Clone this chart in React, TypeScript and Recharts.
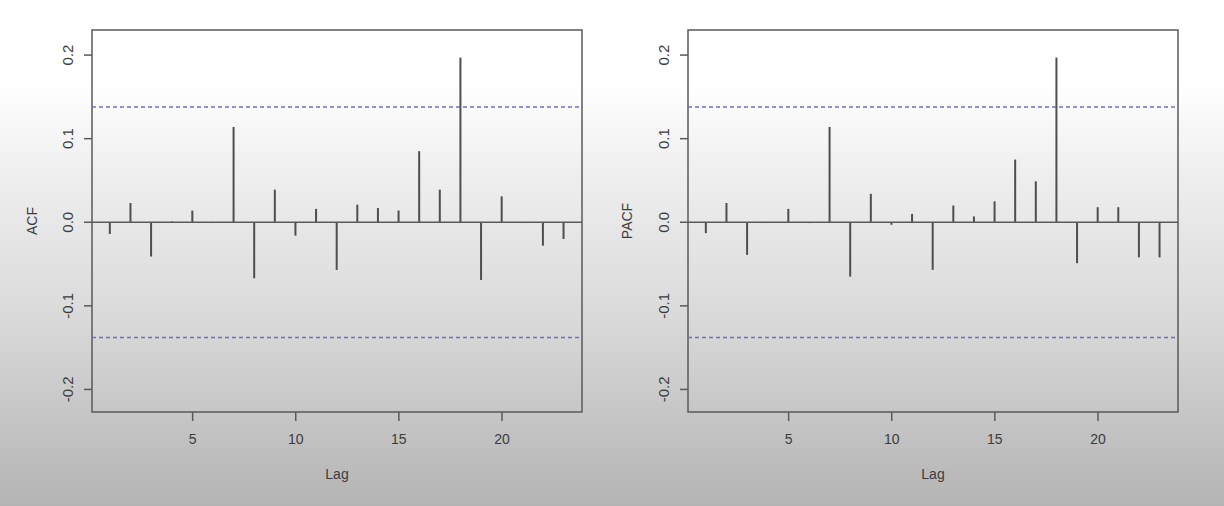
import React from 'react';
import {
  ComposedChart, Bar, XAxis, YAxis, ReferenceLine, ReferenceArea, Label,
} from 'recharts';

// lags 1..23, values
const lags = [1, 2, 3, 4, 5, 6, 7, 8, 9, 10, 11, 12, 13, 14, 15, 16, 17, 18, 19, 20, 21, 22, 23];
const acfValues = [
  -0.014, 0.023, -0.041, 0.001, 0.014, -0.001, 0.114, -0.067, 0.039, -0.016, 0.016, -0.057,
  0.021, 0.017, 0.014, 0.085, 0.039, 0.197, -0.069, 0.031, -0.001, -0.028, -0.020,
];
const pacfValues = [
  -0.013, 0.023, -0.039, -0.001, 0.016, -0.001, 0.114, -0.065, 0.034, -0.003, 0.010, -0.057,
  0.020, 0.007, 0.025, 0.075, 0.049, 0.197, -0.049, 0.018, 0.018, -0.042, -0.042,
];
const xTicks = [5, 10, 15, 20];
const yTicks = [-0.2, -0.1, 0, 0.1, 0.2];
const ciBound = 0.138;

const xDomain: [number, number] = [0.12, 23.88];
const yDomain: [number, number] = [-0.227, 0.23];

const FONT = '"Liberation Sans", Arial, sans-serif';
const TEXT = '#3c3c3c';
const LINE = '#5a5a5a';

const data = lags.map((lag, i) => ({ lag, acf: acfValues[i], pacf: pacfValues[i] }));

function YTick(props: any) {
  const { x, y, payload } = props;
  const tx = x - 16;
  return (
    <text
      x={tx}
      y={y}
      transform={`rotate(-90, ${tx}, ${y})`}
      textAnchor="middle"
      dominantBaseline="central"
      fill={TEXT}
      fontSize={15}
      fontFamily={FONT}
    >
      {payload.value.toFixed(1)}
    </text>
  );
}

interface PanelProps {
  dataKey: 'acf' | 'pacf';
  title: string;
  left: number;
  yAxisWidth: number;
  rightMargin: number;
  titleOffset: number;
}

function Panel({ dataKey, title, left, yAxisWidth, rightMargin, titleOffset }: PanelProps) {
  return (
    <div style={{ position: 'absolute', left, top: 0 }}>
      <ComposedChart
        width={612}
        height={506}
        data={data}
        margin={{ top: 30, right: rightMargin, bottom: 14, left: 0 }}
      >
        <XAxis
          dataKey="lag"
          type="number"
          domain={xDomain}
          ticks={xTicks}
          allowDataOverflow
          height={80}
          axisLine={false}
          tickSize={9}
          tickMargin={13}
          tickLine={{ stroke: LINE, strokeWidth: 1.5 }}
          tick={{ fill: TEXT, fontSize: 14, fontFamily: FONT }}
        >
          <Label
            value="Lag"
            position="insideBottom"
            offset={13}
            style={{ fill: TEXT, fontSize: 14, fontFamily: FONT }}
          />
        </XAxis>
        <YAxis
          type="number"
          domain={yDomain}
          ticks={yTicks}
          allowDataOverflow
          width={yAxisWidth}
          axisLine={false}
          tickSize={8}
          tickMargin={0}
          tickLine={{ stroke: LINE, strokeWidth: 1.5 }}
          tick={<YTick />}
        >
          <Label
            content={(p: any) => {
              const vb = p.viewBox;
              const cx = vb.x + titleOffset;
              const cy = vb.y + vb.height / 2;
              return (
                <text
                  x={cx}
                  y={cy}
                  transform={`rotate(-90, ${cx}, ${cy})`}
                  textAnchor="middle"
                  dominantBaseline="central"
                  fill={TEXT}
                  fontSize={14}
                  fontFamily={FONT}
                >
                  {title}
                </text>
              );
            }}
          />
        </YAxis>
        <ReferenceLine y={0} stroke={LINE} strokeWidth={1.5} />
        <ReferenceLine y={ciBound} stroke="#6e6ec8" strokeWidth={1.5} strokeDasharray="4 3" />
        <ReferenceLine y={-ciBound} stroke="#6e6ec8" strokeWidth={1.5} strokeDasharray="4 3" />
        <Bar dataKey={dataKey} barSize={2} fill="#4e4e4e" isAnimationActive={false} />
        <ReferenceArea
          x1={xDomain[0]}
          x2={xDomain[1]}
          y1={yDomain[0]}
          y2={yDomain[1]}
          fill="none"
          fillOpacity={0}
          stroke={LINE}
          strokeWidth={1.5}
          ifOverflow="visible"
        />
      </ComposedChart>
    </div>
  );
}

export default function App() {
  return (
    <div
      style={{
        position: 'absolute',
        left: 0,
        top: 0,
        width: 1224,
        height: 506,
        overflow: 'hidden',
        background: 'linear-gradient(to bottom, #ffffff 0%, #ffffff 16%, #eeeeee 35%, #dcdcdc 60%, #c6c6c6 82%, #b4b4b4 100%)',
      }}
    >
      <Panel dataKey="acf" title="ACF" left={0} yAxisWidth={92} rightMargin={30} titleOffset={32} />
      <Panel dataKey="pacf" title="PACF" left={612} yAxisWidth={76} rightMargin={46} titleOffset={15} />
    </div>
  );
}
